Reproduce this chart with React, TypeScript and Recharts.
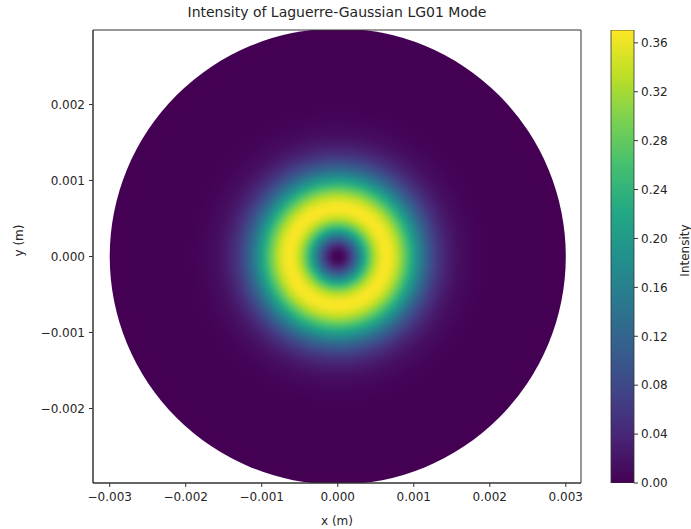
import React from 'react';
import { ComposedChart, XAxis, YAxis, ReferenceArea, BarChart, Bar } from 'recharts';

// Radial intensity profile (radius in m, intensity)
const ringRadius = [
  0, 0.00005, 0.0001, 0.00015, 0.0002, 0.00025, 0.0003, 0.00035, 0.0004, 0.00045,
  0.0005, 0.00055, 0.0006, 0.00065, 0.0007, 0.00075, 0.0008, 0.00085, 0.0009, 0.00095,
  0.001, 0.00105, 0.0011, 0.00115, 0.0012, 0.00125, 0.0013, 0.00135, 0.0014, 0.00145,
  0.0015, 0.0016, 0.0017, 0.0018, 0.0019, 0.002, 0.003,
];
const ringIntensity = [
  0, 0.006, 0.024, 0.053, 0.09, 0.132, 0.178, 0.224, 0.266, 0.303,
  0.333, 0.354, 0.366, 0.368, 0.361, 0.346, 0.326, 0.3, 0.271, 0.24,
  0.209, 0.179, 0.151, 0.1245, 0.102, 0.082, 0.065, 0.051, 0.04, 0.031,
  0.024, 0.014, 0.008, 0.004, 0.002, 0.001, 0,
];
const discRadius = 0.003;
const xDomain = [-0.00322, 0.0032];
const yDomain = [-0.00298, 0.00298];
const xTicks = [-0.003, -0.002, -0.001, 0, 0.001, 0.002, 0.003];
const yTicks = [-0.002, -0.001, 0, 0.001, 0.002];
const cbTicks = [0, 0.04, 0.08, 0.12, 0.16, 0.2, 0.24, 0.28, 0.32, 0.36];
const cbMax = 0.3705;
const cbData = [{ name: 'Intensity', value: cbMax }];

const viridisStops = ['#440154', '#482475', '#414487', '#355f8d', '#2a788e', '#21918c', '#22a884', '#44bf70', '#7ad151', '#bddf26', '#fde725'];

function hexToRgb(h: string) {
  return [parseInt(h.slice(1, 3), 16), parseInt(h.slice(3, 5), 16), parseInt(h.slice(5, 7), 16)];
}
function viridis(t: number) {
  const c = Math.max(0, Math.min(1, t));
  const p = c * (viridisStops.length - 1);
  const i = Math.min(Math.floor(p), viridisStops.length - 2);
  const f = p - i;
  const a = hexToRgb(viridisStops[i]);
  const b = hexToRgb(viridisStops[i + 1]);
  const m = a.map((v, k) => Math.round(v + (b[k] - v) * f));
  return `rgb(${m[0]},${m[1]},${m[2]})`;
}

const FONT = 'DejaVu Sans, sans-serif';
const TXT = '#262626';

const fmt = (v: number) => (v < 0 ? '\u2212' : '') + Math.abs(v).toFixed(3);

const DiscShape = (props: any) => {
  const { x, y, width, height, clipPath } = props;
  const w = Math.abs(width);
  const h = Math.abs(height);
  const x0 = Math.min(x, x + width);
  const y0 = Math.min(y, y + height);
  return (
    <g clipPath={clipPath}>
      <defs>
        <radialGradient id="lgGrad" cx="50%" cy="50%" r="50%">
          {ringRadius.map((r, i) => (
            <stop key={i} offset={r / discRadius} stopColor={viridis(ringIntensity[i] / cbMax)} />
          ))}
        </radialGradient>
      </defs>
      <ellipse cx={x0 + w / 2} cy={y0 + h / 2} rx={w / 2} ry={h / 2} fill="url(#lgGrad)" />
    </g>
  );
};

const ColorBarShape = (props: any) => {
  const { x, y, width, height } = props;
  return (
    <g>
      <defs>
        <linearGradient id="cbGrad" x1="0" y1="1" x2="0" y2="0">
          {viridisStops.map((c, i) => (
            <stop key={i} offset={i / (viridisStops.length - 1)} stopColor={c} />
          ))}
        </linearGradient>
      </defs>
      <rect x={x} y={y} width={width} height={height} fill="url(#cbGrad)" stroke="#333" strokeWidth={0.8} />
    </g>
  );
};

const CbLabel = (props: any) => {
  const vb = props.viewBox || {};
  const cx = vb.x + vb.width - 6;
  const cy = vb.y + vb.height / 2 - 6;
  return (
    <text
      x={cx}
      y={cy}
      transform={`rotate(-90, ${cx}, ${cy})`}
      textAnchor="middle"
      dominantBaseline="central"
      fontSize={12}
      fill={TXT}
      fontFamily={FONT}
    >
      Intensity
    </text>
  );
};

export default function App() {
  return (
    <div style={{ position: 'absolute', left: 0, top: 0, width: 691, height: 529, background: '#fff', fontFamily: FONT }}>
      <div style={{ position: 'absolute', left: 93, width: 488, top: 4, fontSize: 14, color: TXT, textAlign: 'center' }}>
        Intensity of Laguerre-Gaussian LG01 Mode
      </div>
      <div style={{ position: 'absolute', left: 0, top: 0 }}>
        <ComposedChart width={600} height={529} margin={{ top: 30, right: 19, left: 33, bottom: 0 }}>
          <XAxis
            type="number"
            dataKey="x"
            domain={xDomain}
            ticks={xTicks}
            allowDataOverflow
            tickFormatter={fmt}
            height={46}
            tickSize={4}
            tickMargin={5}
            tick={{ fontSize: 12, fill: TXT, fontFamily: FONT }}
            stroke="#333"
            label={{ value: 'x (m)', position: 'insideBottom', offset: 4, fontSize: 12, fill: TXT, fontFamily: FONT }}
          />
          <YAxis
            type="number"
            dataKey="y"
            domain={yDomain}
            ticks={yTicks}
            allowDataOverflow
            tickFormatter={fmt}
            width={60}
            tickSize={4}
            tickMargin={4}
            tick={{ fontSize: 12, fill: TXT, fontFamily: FONT }}
            stroke="#333"
            label={{ value: 'y (m)', angle: -90, position: 'insideLeft', offset: -14, fontSize: 12, fill: TXT, fontFamily: FONT }}
          />
          <ReferenceArea
            x1={-discRadius}
            x2={discRadius}
            y1={-discRadius}
            y2={discRadius}
            ifOverflow="hidden"
            shape={DiscShape}
          />
          <ReferenceArea
            x1={xDomain[0]}
            x2={xDomain[1]}
            y1={yDomain[0]}
            y2={yDomain[1]}
            ifOverflow="visible"
            fill="none"
            fillOpacity={0}
            stroke="#333"
            strokeWidth={1}
          />
        </ComposedChart>
      </div>
      <div style={{ position: 'absolute', left: 590, top: 0 }}>
        <BarChart width={101} height={529} data={cbData} margin={{ top: 30, right: 0, left: 21, bottom: 46 }} barCategoryGap={0}>
          <XAxis dataKey="name" hide />
          <YAxis
            orientation="right"
            type="number"
            domain={[0, cbMax]}
            ticks={cbTicks}
            allowDataOverflow
            tickFormatter={(v: number) => v.toFixed(2)}
            width={57}
            tickSize={4}
            tickMargin={3}
            axisLine={false}
            tick={{ fontSize: 12, fill: TXT, fontFamily: FONT }}
            stroke="#333"
            label={<CbLabel />}
          />
          <Bar dataKey="value" isAnimationActive={false} shape={ColorBarShape} />
        </BarChart>
      </div>
    </div>
  );
}
